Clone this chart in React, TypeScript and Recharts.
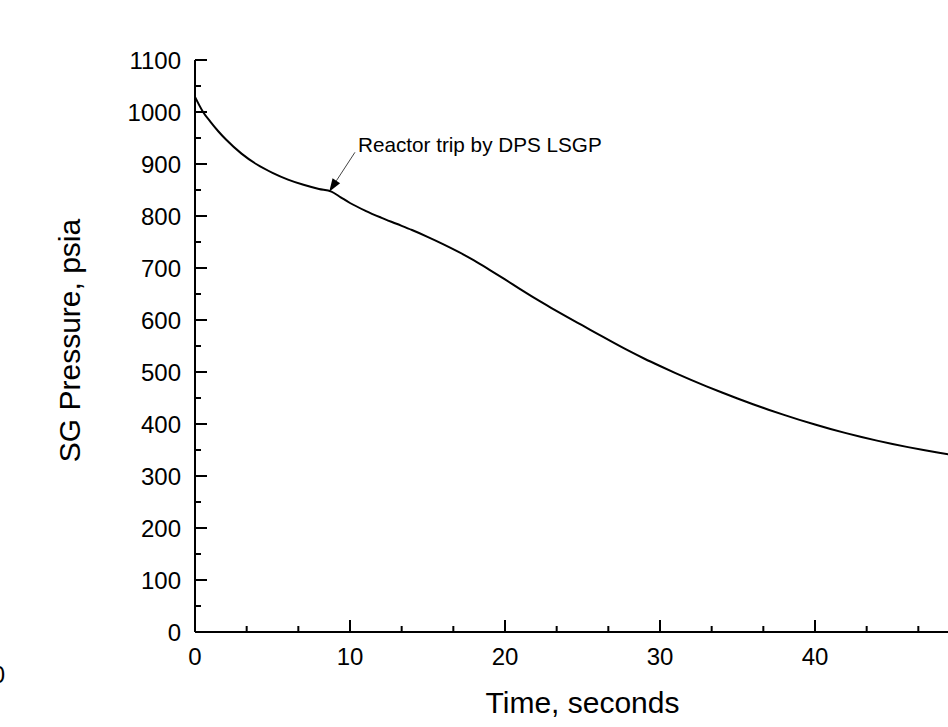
import React from 'react';
import { LineChart, Line, XAxis, YAxis, ReferenceLine } from 'recharts';

const timeSec = [0, 0.5, 1, 1.5, 2, 3, 4, 5, 6, 7, 8, 8.8, 9.4, 10, 11, 12, 13, 14, 15, 16, 17, 18, 19, 20, 21, 22, 23, 24, 25, 26, 27, 28, 29, 30, 31, 32, 33, 34, 35, 36, 37, 38, 39, 40, 41, 42, 43, 44, 45, 46, 47, 48, 49, 50];
const pressurePsia = [1029, 1001, 981, 963, 947, 920, 899, 883, 870, 860, 852, 847, 836, 825, 810, 797, 785, 773, 760, 746, 731, 714.5, 696.5, 678, 659, 640.5, 623, 606, 589.5, 573, 556.5, 540.5, 525.5, 511.5, 498, 485, 472.5, 460.5, 449, 438, 427.5, 417.5, 408, 399, 390.5, 382.5, 375, 368, 361.5, 355.5, 350, 344.8, 339.8, 335];

const xTicks = [0, 10 / 3, 20 / 3, 10, 40 / 3, 50 / 3, 20, 70 / 3, 80 / 3, 30, 100 / 3, 110 / 3, 40, 130 / 3, 140 / 3, 50];
const yTicks = [0, 50, 100, 150, 200, 250, 300, 350, 400, 450, 500, 550, 600, 650, 700, 750, 800, 850, 900, 950, 1000, 1050, 1100];

const annotationText = 'Reactor trip by DPS LSGP';
const arrowFrom = { x: 10.32, y: 922.5 };
const arrowTo = { x: 8.66, y: 846.7 };

const data = timeSec.map((t, i) => ({ t, p: pressurePsia[i] }));

const FONT = '"Liberation Sans", Arial, Helvetica, sans-serif';

const isMajorX = (v: number) => Math.abs(v / 10 - Math.round(v / 10)) < 1e-6;
const isMajorY = (v: number) => Math.abs(v / 100 - Math.round(v / 100)) < 1e-6;

const BottomTick = (props: any) => {
  const { x, y, payload } = props;
  const major = isMajorX(payload.value);
  return (
    <g>
      <line x1={x} x2={x} y1={y} y2={y - (major ? 12 : 6)} stroke="#000" strokeWidth={2} />
      {major && (
        <text x={x} y={y + 33} textAnchor="middle" fontSize={24} fontFamily={FONT} fill="#000">
          {Math.round(payload.value)}
        </text>
      )}
    </g>
  );
};

const TopTick = (props: any) => {
  const { x, y, payload } = props;
  const major = isMajorX(payload.value);
  return <line x1={x} x2={x} y1={y} y2={y + (major ? 12 : 6)} stroke="#000" strokeWidth={2} />;
};

const LeftTick = (props: any) => {
  const { x, y, payload } = props;
  const major = isMajorY(payload.value);
  return (
    <g>
      <line x1={x} x2={x + (major ? 12 : 6)} y1={y} y2={y} stroke="#000" strokeWidth={2} />
      {major && (
        <text x={x - 14} y={y} dy={8.6} textAnchor="end" fontSize={24} fontFamily={FONT} fill="#000">
          {Math.round(payload.value)}
        </text>
      )}
    </g>
  );
};

const RightTick = (props: any) => {
  const { x, y, payload } = props;
  const major = isMajorY(payload.value);
  return <line x1={x} x2={x - (major ? 12 : 6)} y1={y} y2={y} stroke="#000" strokeWidth={2} />;
};

const XTitle = (props: any) => {
  const vb = props.viewBox || {};
  return (
    <text x={vb.x + vb.width / 2} y={vb.y + 81} textAnchor="middle" fontSize={30} fontFamily={FONT} fill="#000">
      Time, seconds
    </text>
  );
};

const YTitle = () => (
  <g>
    <text transform="translate(80,340.5) rotate(-90)" textAnchor="middle" fontSize={30} fontFamily={FONT} fill="#000">
      SG Pressure, psia
    </text>
    <text x={5} y={683} textAnchor="end" fontSize={24} fontFamily={FONT} fill="#000">0</text>
  </g>
);

const ArrowShape = (props: any) => {
  const { x1, y1, x2, y2 } = props;
  const dx = x2 - x1;
  const dy = y2 - y1;
  const len = Math.sqrt(dx * dx + dy * dy) || 1;
  const ux = dx / len;
  const uy = dy / len;
  const hl = 13;
  const hw = 4.5;
  const bx = x2 - ux * hl;
  const by = y2 - uy * hl;
  const pts = `${x2},${y2} ${bx - uy * hw},${by + ux * hw} ${bx + uy * hw},${by - ux * hw}`;
  return (
    <g>
      <line x1={x1} y1={y1} x2={bx} y2={by} stroke="#444" strokeWidth={1} />
      <polygon points={pts} fill="#000" />
      <text x={x1 + 3} y={y1} fontSize={20.7} fontFamily={FONT} fill="#000">{annotationText}</text>
    </g>
  );
};

export default function App() {
  return (
    <div style={{ position: 'fixed', left: 0, top: 0, width: 948, height: 727, overflow: 'hidden', background: '#fff' }}>
      <LineChart width={1000} height={727} data={data} margin={{ top: 60, right: 30, bottom: 0, left: 105 }}>
        <XAxis
          dataKey="t"
          type="number"
          domain={[0, 50]}
          ticks={xTicks}
          interval={0}
          height={95}
          tickSize={0}
          tickMargin={0}
          tickLine={false}
          tick={<BottomTick />}
          axisLine={{ stroke: '#000', strokeWidth: 2 }}
          label={<XTitle />}
        />
        <XAxis
          xAxisId="top"
          orientation="top"
          type="number"
          domain={[0, 50]}
          ticks={xTicks}
          interval={0}
          height={0}
          tickSize={0}
          tickMargin={0}
          tickLine={false}
          tick={<TopTick />}
          axisLine={{ stroke: '#000', strokeWidth: 2 }}
        />
        <YAxis
          type="number"
          domain={[0, 1100]}
          ticks={yTicks}
          interval={0}
          width={90}
          tickSize={0}
          tickMargin={0}
          tickLine={false}
          tick={<LeftTick />}
          axisLine={{ stroke: '#000', strokeWidth: 2 }}
          label={<YTitle />}
        />
        <YAxis
          yAxisId="right"
          orientation="right"
          type="number"
          domain={[0, 1100]}
          ticks={yTicks}
          interval={0}
          width={0}
          tickSize={0}
          tickMargin={0}
          tickLine={false}
          tick={<RightTick />}
          axisLine={{ stroke: '#000', strokeWidth: 2 }}
        />
        <Line
          type="monotone"
          dataKey="p"
          stroke="#000"
          strokeWidth={2}
          dot={false}
          activeDot={false}
          isAnimationActive={false}
        />
        <ReferenceLine segment={[arrowFrom, arrowTo]} shape={<ArrowShape />} ifOverflow="visible" />
      </LineChart>
    </div>
  );
}
